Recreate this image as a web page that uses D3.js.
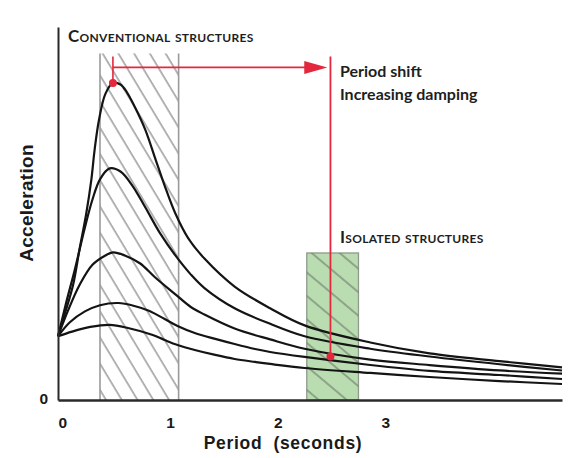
<!DOCTYPE html>
<html>
<head>
<meta charset="utf-8">
<script src="https://cdn.jsdelivr.net/npm/d3@7"></script>
<style>
  body { margin: 0; background: #fff; }
  .tick-label { font-family: "Liberation Sans", Arial, sans-serif; font-weight: 700; font-size: 15.5px; fill: #1a1a1a; }
  .axis-title { font-family: "Liberation Sans", Arial, sans-serif; font-weight: 700; fill: #1a1a1a; }
  .note { font-family: Lato, "Open Sans", sans-serif; font-weight: 700; fill: #1e1e1e; }
</style>
</head>
<body>
<div id="spectrum"></div>
<script>
// period (s) / acceleration (g) pairs, least damped first
const curve1 = [[0,0.41],[0.07,0.57],[0.14,0.74],[0.20,0.97],[0.26,1.19],[0.31,1.42],[0.34,1.61],[0.38,1.80],[0.44,1.97],[0.51,2.04],[0.58,2.03],[0.64,1.98],[0.71,1.89],[0.81,1.74],[0.90,1.56],[0.99,1.38],[1.09,1.20],[1.21,1.04],[1.36,0.91],[1.64,0.73],[1.97,0.59],[2.29,0.48],[2.90,0.37],[3.45,0.30],[4.10,0.25],[4.68,0.21]];
const curve2 = [[0,0.41],[0.07,0.61],[0.16,0.85],[0.25,1.11],[0.32,1.29],[0.39,1.42],[0.48,1.49],[0.58,1.47],[0.69,1.38],[0.81,1.24],[0.95,1.07],[1.09,0.93],[1.23,0.81],[1.36,0.72],[1.64,0.59],[1.97,0.49],[2.29,0.41],[2.90,0.33],[3.45,0.28],[4.10,0.23],[4.68,0.19]];
const curve3 = [[0,0.41],[0.09,0.57],[0.20,0.74],[0.32,0.87],[0.44,0.93],[0.51,0.95],[0.62,0.93],[0.76,0.88],[0.90,0.79],[1.09,0.68],[1.23,0.60],[1.36,0.55],[1.64,0.46],[1.97,0.39],[2.29,0.33],[2.90,0.26],[3.45,0.225],[4.10,0.19],[4.68,0.17]];
const curve4 = [[0,0.41],[0.11,0.50],[0.25,0.57],[0.39,0.61],[0.56,0.624],[0.71,0.605],[0.85,0.573],[0.99,0.521],[1.11,0.476],[1.27,0.431],[1.46,0.393],[1.64,0.36],[1.83,0.328],[1.97,0.309],[2.29,0.277],[2.90,0.225],[3.45,0.187],[4.10,0.161],[4.68,0.135]];
const curve5 = [[0,0.41],[0.13,0.44],[0.30,0.47],[0.48,0.483],[0.65,0.463],[0.88,0.418],[0.99,0.386],[1.11,0.354],[1.27,0.322],[1.46,0.29],[1.64,0.264],[1.83,0.245],[1.97,0.232],[2.29,0.206],[2.90,0.174],[3.45,0.148],[4.10,0.122],[4.68,0.103]];
const curves = [curve1, curve2, curve3, curve4, curve5];

const xTicks = [0, 1, 2, 3];
const yTicks = [0];

// period bands (s) and their top (g)
const conventionalBand = [0.39, 1.12, 2.23];
const isolatedBand = [2.31, 2.79, 0.946];

// red annotation: peak point, isolated point, arrow level
const peakPoint = [0.51, 2.04];
const isolatedPoint = [2.53, 0.28];
const arrowLevel = 2.14, arrowTop = 2.21, arrowTip = 2.50;

function ResponseSpectrum(id){
    const width = 571, height = 458;

    const svg = d3.select(id).append("svg")
                .attr("width", width).attr("height", height)
                .attr("viewBox", "0 0 571 458");

    const x = d3.scaleLinear().domain([0, 4.68]).range([58, 562]);
    const y = d3.scaleLinear().domain([0, 2.4]).range([400, 27]);

    //hatch patterns
    const defs = svg.append("defs");
    defs.append("pattern").attr("id", "hatchConv")
        .attr("patternUnits", "userSpaceOnUse")
        .attr("width", 13.5).attr("height", 20)
        .attr("patternTransform", "translate(100,53) rotate(-31)")
      .append("line")
        .attr("x1", 2).attr("x2", 2).attr("y1", 0).attr("y2", 20)
        .style("stroke", "#8c8c8c").style("stroke-width", 1.3);

    defs.append("pattern").attr("id", "hatchIso")
        .attr("patternUnits", "userSpaceOnUse")
        .attr("width", 18).attr("height", 20)
        .attr("patternTransform", "translate(307,253) rotate(-50)")
      .append("line")
        .attr("x1", 3).attr("x2", 3).attr("y1", 0).attr("y2", 20)
        .style("stroke", "#6f7d6c").style("stroke-width", 1.2);

    //conventional band
    const conv = svg.append("g");
    conv.append("rect")
        .attr("x", x(conventionalBand[0]))
        .attr("y", y(conventionalBand[2]))
        .attr("width", x(conventionalBand[1]) - x(conventionalBand[0]))
        .attr("height", y(0) - y(conventionalBand[2]))
        .style("fill", "url(#hatchConv)");
    conv.selectAll("line").data(conventionalBand.slice(0, 2))
        .enter().append("line")
        .attr("x1", d => x(d)).attr("x2", d => x(d))
        .attr("y1", y(conventionalBand[2])).attr("y2", y(0))
        .style("stroke", "#9a9a9a").style("stroke-width", 1.6);

    //isolated band
    svg.append("rect")
        .attr("x", x(isolatedBand[0]))
        .attr("y", y(isolatedBand[2]))
        .attr("width", x(isolatedBand[1]) - x(isolatedBand[0]))
        .attr("height", y(0) - y(isolatedBand[2]))
        .style("fill", "#b9ddb1")
        .style("stroke", "#8f9a8d").style("stroke-width", 1.3);
    svg.append("rect")
        .attr("x", x(isolatedBand[0]))
        .attr("y", y(isolatedBand[2]))
        .attr("width", x(isolatedBand[1]) - x(isolatedBand[0]))
        .attr("height", y(0) - y(isolatedBand[2]))
        .style("fill", "url(#hatchIso)");

    //spectrum curves
    const line = d3.line()
        .x(d => x(d[0])).y(d => y(d[1]))
        .curve(d3.curveCatmullRom.alpha(0.5));

    svg.append("g").selectAll("path")
        .data(curves)
        .enter().append("path")
        .attr("d", line)
        .style("fill", "none")
        .style("stroke", "#141414")
        .style("stroke-width", 2.2);

    //axes
    const xAxis = svg.append("g")
        .attr("transform", `translate(0,${y(0)})`)
        .call(d3.axisBottom(x).tickValues(xTicks).tickSize(0).tickPadding(0).tickFormat(d3.format("d")));
    xAxis.select(".domain").style("stroke", "#2a2a2a").style("stroke-width", 2.6);
    xAxis.selectAll("text").attr("class", "tick-label")
        .attr("text-anchor", "start").attr("dy", null).attr("y", 28);

    const yAxis = svg.append("g")
        .attr("transform", `translate(${x(0)},0)`)
        .call(d3.axisLeft(y).tickValues(yTicks).tickSize(0).tickPadding(0).tickFormat(d3.format("d")));
    yAxis.select(".domain").style("stroke", "#2a2a2a").style("stroke-width", 2);
    yAxis.selectAll("text").attr("class", "tick-label")
        .attr("text-anchor", "end").attr("dy", null).attr("x", -10).attr("y", 3);

    //red annotation
    const red = "#e5273d";
    const ann = svg.append("g");
    ann.append("path")
        .attr("d", `M${x(peakPoint[0])},${y(arrowTop)}V${y(peakPoint[1])}`
                 + `M${x(peakPoint[0])},${y(arrowLevel)}H${x(arrowTip) - 20}`)
        .style("fill", "none").style("stroke", red).style("stroke-width", 1.6);
    ann.append("path")
        .attr("d", `M${x(arrowTip)},${y(arrowLevel)}l-23,-6.5v13z`)
        .style("fill", red);
    ann.append("line")
        .attr("x1", x(isolatedPoint[0])).attr("x2", x(isolatedPoint[0]))
        .attr("y1", y(arrowTop)).attr("y2", y(isolatedPoint[1]))
        .style("stroke", red).style("stroke-width", 1.8);
    ann.selectAll("circle").data([peakPoint, isolatedPoint])
        .enter().append("circle")
        .attr("cx", d => x(d[0])).attr("cy", d => y(d[1]))
        .attr("r", 4)
        .style("fill", red);

    //notes
    svg.append("text").attr("class", "note")
        .attr("x", 68).attr("y", 42)
        .style("font-size", "17px").style("font-variant", "small-caps")
        .style("letter-spacing", "0.3px")
        .text("Conventional structures");
    svg.append("text").attr("class", "note")
        .attr("x", 340).attr("y", 77)
        .style("font-size", "16px")
        .text("Period shift");
    svg.append("text").attr("class", "note")
        .attr("x", 340).attr("y", 100)
        .style("font-size", "16px")
        .text("Increasing damping");
    svg.append("text").attr("class", "note")
        .attr("x", 340).attr("y", 243)
        .style("font-size", "17px").style("font-variant", "small-caps")
        .style("letter-spacing", "0.3px")
        .text("Isolated structures");

    //axis titles
    svg.append("text").attr("class", "axis-title")
        .attr("transform", "translate(33,203) rotate(-90)")
        .attr("text-anchor", "middle")
        .style("font-size", "19px")
        .style("letter-spacing", "0.3px")
        .text("Acceleration");
    svg.append("text").attr("class", "axis-title")
        .attr("x", 283).attr("y", 449)
        .attr("text-anchor", "middle")
        .style("font-size", "17.5px")
        .style("letter-spacing", "0.7px")
        .attr("xml:space", "preserve")
        .style("white-space", "pre")
        .text("Period  (seconds)");

    return svg;
}

ResponseSpectrum("#spectrum");
</script>
</body>
</html>
